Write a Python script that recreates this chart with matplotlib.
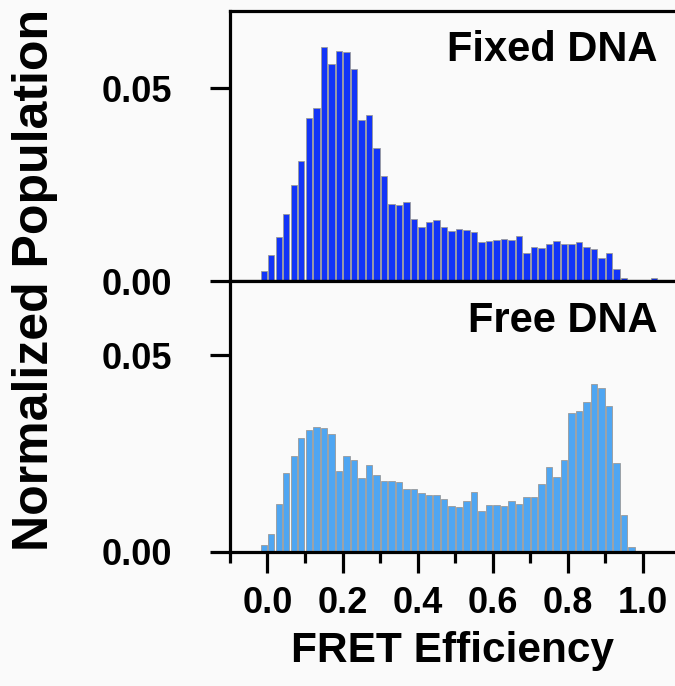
import numpy as np
import matplotlib
matplotlib.use("Agg")
import matplotlib.pyplot as plt

# FRET histograms, bins 0.02 wide, first bin centre given below
bin_width = 0.02
fixed_first_center = -0.03
fixed_values = [
    0.0003, 0.0026, 0.0068, 0.0115, 0.0174, 0.0249, 0.0313, 0.0422, 0.0448, 0.0608,
    0.0562, 0.0596, 0.0593, 0.0549, 0.0419, 0.0430, 0.0345, 0.0273, 0.0201, 0.0199,
    0.0206, 0.0163, 0.0141, 0.0153, 0.0160, 0.0141, 0.0131, 0.0137, 0.0134, 0.0129,
    0.0102, 0.0105, 0.0108, 0.0109, 0.0108, 0.0117, 0.0073, 0.0090, 0.0086, 0.0097,
    0.0104, 0.0097, 0.0097, 0.0102, 0.0090, 0.0085, 0.0061, 0.0073, 0.0032, 0.0010,
    0.0003, 0.0001, 0.0004, 0.0008, 0.0001, 0.0004,
]
free_first_center = -0.05
free_values = [
    0.0002, 0.0002, 0.0016, 0.0046, 0.0121, 0.0199, 0.0244, 0.0290, 0.0309, 0.0317,
    0.0315, 0.0298, 0.0204, 0.0243, 0.0232, 0.0187, 0.0221, 0.0194, 0.0179, 0.0179,
    0.0176, 0.0159, 0.0159, 0.0148, 0.0145, 0.0143, 0.0135, 0.0115, 0.0113, 0.0128,
    0.0153, 0.0104, 0.0119, 0.0118, 0.0115, 0.0128, 0.0121, 0.0140, 0.0140, 0.0173,
    0.0215, 0.0191, 0.0233, 0.0352, 0.0357, 0.0381, 0.0427, 0.0416, 0.0370, 0.0226,
    0.0094, 0.0012, 0.0003, 0.0000, 0.0003,
]
panel_labels = ["Fixed DNA", "Free DNA"]
y_ticks = [0.00, 0.05]
x_ticks = [0.0, 0.2, 0.4, 0.6, 0.8, 1.0]
x_minor_ticks = [-0.1, 0.1, 0.3, 0.5, 0.7, 0.9]

FONT = ["Liberation Sans", "DejaVu Sans"]
BG = "#fafafa"
LW = 2.3

plt.rcParams["font.family"] = FONT
plt.rcParams["font.weight"] = "bold"

fig = plt.figure(figsize=(6.75, 6.86), dpi=100, facecolor=BG)
ax_top = fig.add_axes([0.3407, 0.5897, 0.6593, 0.3947])
ax_bot = fig.add_axes([0.3407, 0.1958, 0.6593, 0.3939], sharex=ax_top)


def centers(first, n):
    return np.round(first + bin_width * np.arange(n), 3)


ax_top.bar(centers(fixed_first_center, len(fixed_values)), fixed_values,
           width=0.0172, color="#1234f8", edgecolor="#9a9a9a", linewidth=0.6)
ax_bot.bar(centers(free_first_center, len(free_values)), free_values,
           width=0.0172, color="#4fa6f2", edgecolor="#9a9a9a", linewidth=0.6)

ax_top.set_ylim(0, 0.0701)
ax_bot.set_ylim(0, 0.0687)
ax_bot.set_xlim(-0.1, 1.086)

for ax, label in zip([ax_top, ax_bot], panel_labels):
    ax.set_facecolor(BG)
    ax.spines["right"].set_visible(False)
    for s in ["left", "top", "bottom"]:
        ax.spines[s].set_linewidth(LW)
    ax.set_yticks(y_ticks)
    ax.set_yticklabels(["%.2f" % v for v in y_ticks])
    ax.tick_params(axis="y", direction="out", length=14.5, width=LW,
                   labelsize=26, pad=27)
    ax.text(0.96, 0.855, label, transform=ax.transAxes, ha="right",
            va="center", fontsize=30, fontweight="bold")

ax_top.tick_params(axis="x", which="both", bottom=False, labelbottom=False)

ax_bot.set_xticks(x_ticks)
ax_bot.set_xticklabels(["%.1f" % v for v in x_ticks])
ax_bot.set_xticks(x_minor_ticks, minor=True)
ax_bot.tick_params(axis="x", which="major", direction="out", length=15,
                   width=LW, labelsize=26, pad=10)
ax_bot.tick_params(axis="x", which="minor", direction="out", length=8,
                   width=LW)
ax_bot.set_xlabel("FRET Efficiency", fontsize=30.5, fontweight="bold", labelpad=7)

fig.text(0.052, 1 - 280 / 686, "Normalized Population", rotation=90,
         ha="center", va="center", fontsize=36, fontweight="bold")

fig.savefig("out.png", dpi=100, facecolor=BG)
